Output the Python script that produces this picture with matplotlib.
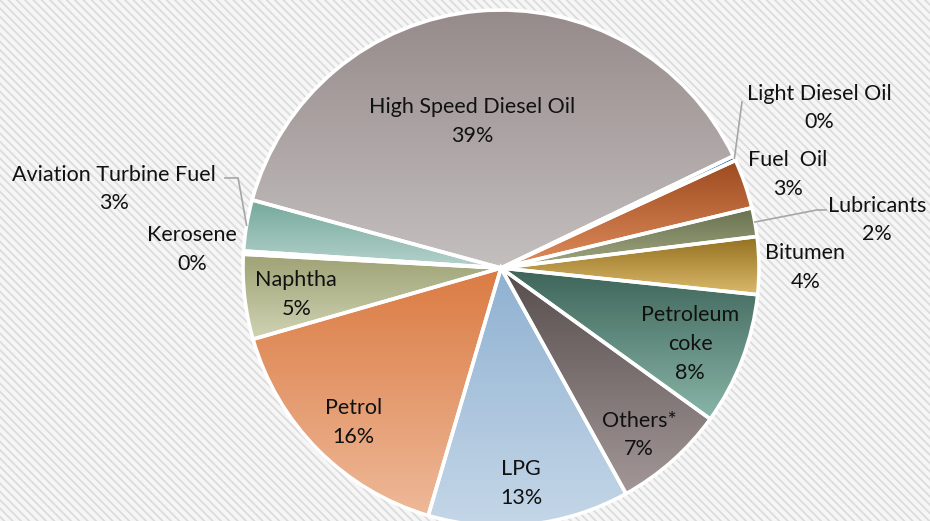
import numpy as np
import matplotlib.pyplot as plt
from matplotlib.colors import LinearSegmentedColormap
from matplotlib.patches import Rectangle

plt.rcParams['font.family'] = ['Lato', 'DejaVu Sans']

# 数据
products = ['High Speed Diesel Oil', 'Light Diesel Oil', 'Fuel  Oil', 'Lubricants',
            'Bitumen', 'Petroleum\ncoke', 'Others*', 'LPG', 'Petrol', 'Naphtha',
            'Kerosene', 'Aviation Turbine Fuel']
shares = [38.6, 0.3, 3.1, 1.8, 3.6, 8.3, 7.0, 12.6, 16.0, 5.3, 0.2, 3.2]

# 渐变色 (上, 下)
colors = [('#958a89', '#c4bfbf'), ('#3f6f9f', '#7fa7cf'), ('#9c4a1f', '#e08c5c'),
          ('#687050', '#a2a880'), ('#93701f', '#dcba6c'), ('#3e6458', '#88b6a8'),
          ('#574d4d', '#a39797'), ('#8fb1d1', '#c5d7e8'), ('#db7b43', '#eeb999'),
          ('#9ea274', '#cfd3b3'), ('#7e9aa0', '#b0c8cc'), ('#74a89b', '#b4d2cb')]

# 标签位置：半径、角度偏移
label_r = [0.58, 1.38, 1.17, 1.47, 1.18, 0.79, 0.84, 0.84, 0.83, 0.80, 1.20, 1.53]
label_dt = [6, 1.5, -1, -3, -0.5, -1, -2, -1, 1.5, 1, 0, -2]
leaders = {1: [(0.934, 0.643)],
           3: [(1.225, 0.225), (1.26, 0.225)],
           11: [(-1.019, 0.349), (-1.07, 0.349)]}

fig = plt.figure(figsize=(9.3, 5.21), dpi=100)
ax = fig.add_axes([0, 0, 1, 1])
ax.set_aspect('equal')
ax.axis('off')

# 背景斜纹
plt.rcParams['hatch.color'] = '#dcdcdc'
plt.rcParams['hatch.linewidth'] = 1.3
bg = Rectangle((0, 0), 1, 1, transform=ax.transAxes, facecolor='#f6f6f6',
               edgecolor='#dcdcdc', hatch='\\\\\\\\', lw=0, zorder=0)
ax.add_patch(bg)

wedges, _ = ax.pie(shares, startangle=164.7, counterclock=False, radius=1.0,
                   wedgeprops=dict(facecolor='none', edgecolor='white', linewidth=2.6))

for i, w in enumerate(wedges):
    w.set_zorder(3)
    v = w.get_path().vertices
    x0, x1 = v[:, 0].min(), v[:, 0].max()
    y0, y1 = v[:, 1].min(), v[:, 1].max()
    cmap = LinearSegmentedColormap.from_list('g%d' % i, colors[i])
    grad = np.linspace(0, 1, 256).reshape(-1, 1)
    im = ax.imshow(grad, cmap=cmap, extent=(x0, x1, y0, y1), origin='upper',
                   aspect='auto', zorder=2, interpolation='bilinear')
    im.set_clip_path(w)

    mid = np.deg2rad((w.theta1 + w.theta2) / 2 + label_dt[i])
    lx, ly = label_r[i] * np.cos(mid), label_r[i] * np.sin(mid)
    pct = round(shares[i] / sum(shares) * 100)
    ax.text(lx, ly, '%s\n%d%%' % (products[i], pct), ha='center', va='center',
            fontsize=15.5, color='#111111', linespacing=1.55, zorder=5)

    if i in leaders:
        m = np.deg2rad((w.theta1 + w.theta2) / 2)
        pts = [(1.0 * np.cos(m), 1.0 * np.sin(m))] + leaders[i]
        xs, ys = zip(*pts)
        ax.plot(xs, ys, color='#a6a6a6', lw=1.2, zorder=4)

ax.set_xlim(-501 / 258, 429 / 258)
ax.set_ylim(-253 / 258, 268 / 258)
fig.savefig('out.png', dpi=100)
